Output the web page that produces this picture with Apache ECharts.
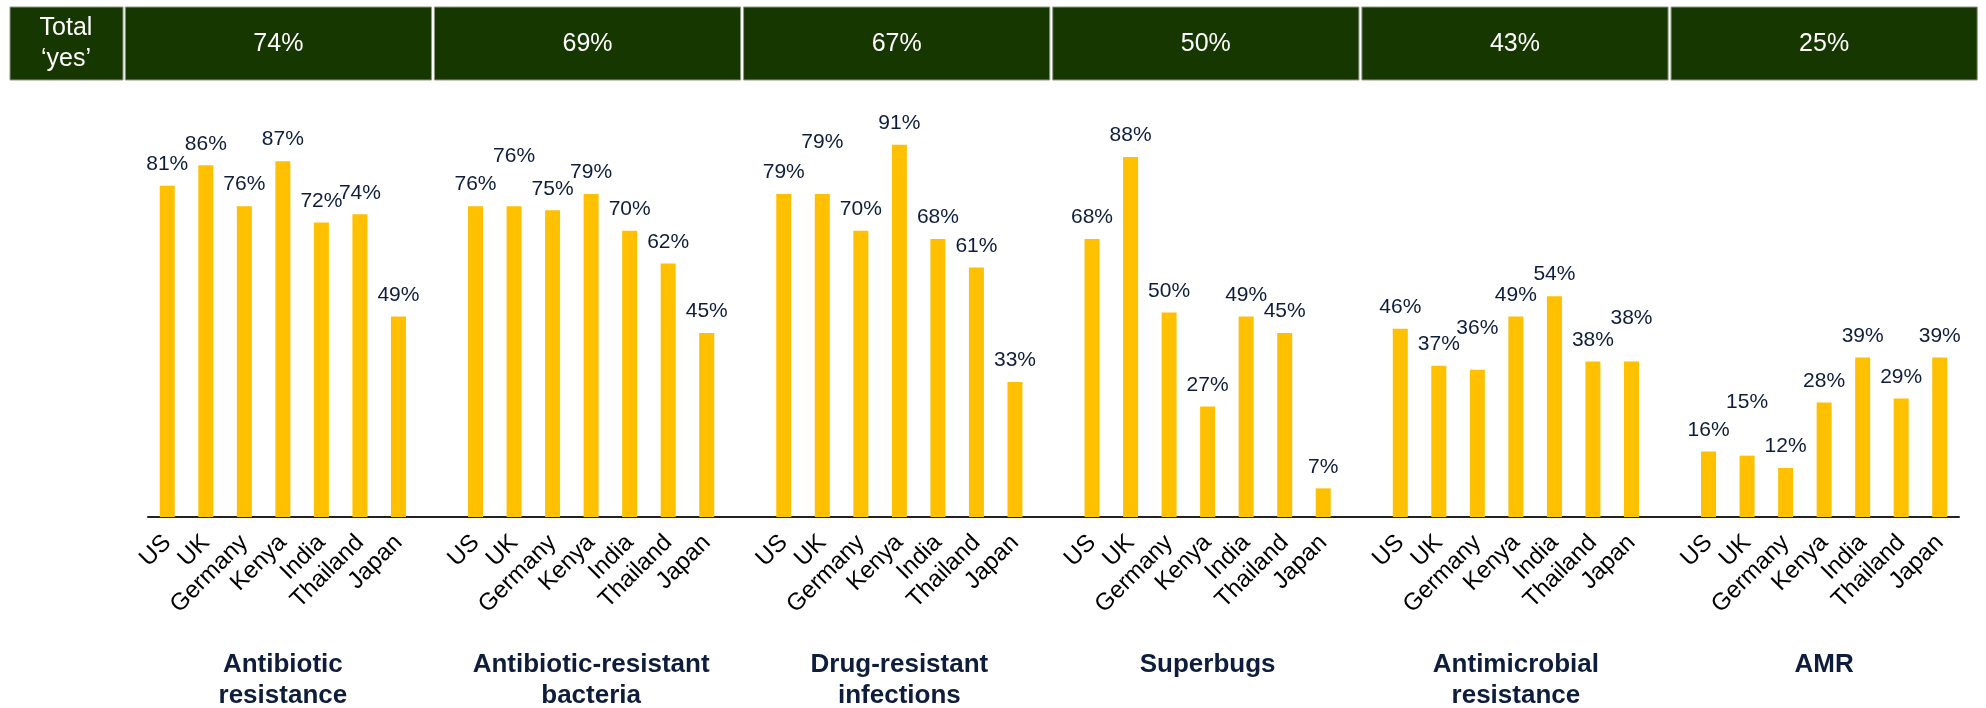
<!DOCTYPE html>
<html>
<head>
<meta charset="utf-8">
<script src="https://cdn.jsdelivr.net/npm/echarts@6/dist/echarts.min.js"></script>
<style>
  html, body { margin: 0; padding: 0; background: #ffffff; }
  #chart { width: 1986px; height: 708px; }
</style>
</head>
<body>
<div id="chart"></div>
<script>
// ---- data ----
const countries = ['US', 'UK', 'Germany', 'Kenya', 'India', 'Thailand', 'Japan'];
const topics = ['Antibiotic\nresistance', 'Antibiotic-resistant\nbacteria', 'Drug-resistant\ninfections', 'Superbugs', 'Antimicrobial\nresistance', 'AMR'];
const totalYes = [74, 69, 67, 50, 43, 25];
const antibioticResistance = [81, 86, 76, 87, 72, 74, 49];
const antibioticResistantBacteria = [76, 76, 75, 79, 70, 62, 45];
const drugResistantInfections = [79, 79, 70, 91, 68, 61, 33];
const superbugs = [68, 88, 50, 27, 49, 45, 7];
const antimicrobialResistance = [46, 37, 36, 49, 54, 38, 38];
const amr = [16, 15, 12, 28, 39, 29, 39];
const totalLabel = 'Total\n\u2018yes\u2019';

// ---- style: extra lift (px) for labels that sit higher in the original to avoid overlaps ----
const labelLift = { '1-1': 28, '2-1': 30, '4-2': 20, '4-6': 22, '5-1': 32 };

const groups = [antibioticResistance, antibioticResistantBacteria, drugResistantInfections, superbugs, antimicrobialResistance, amr];

// build one category axis: 7 countries per topic, one empty slot between topics
const categories = [];
const values = [];
groups.forEach((g, gi) => {
  countries.forEach((c, ci) => {
    categories.push(c);
    const lift = labelLift[gi + '-' + ci];
    if (lift) {
      values.push({ value: g[ci], label: { distance: 11 + lift } });
    } else {
      values.push(g[ci]);
    }
  });
  if (gi < groups.length - 1) { categories.push(' '.repeat(gi + 1)); values.push(null); }
});

const chart = echarts.init(document.getElementById('chart'), null, { renderer: 'canvas' });

const navy = '#0e1d3b';
const option = {
  animation: false,
  backgroundColor: '#ffffff',
  grid: { left: 148, right: 27, top: 108, bottom: 191, containLabel: false },
  xAxis: {
    type: 'category',
    data: categories,
    boundaryGap: true,
    axisLine: { show: true, lineStyle: { color: '#222222', width: 2 } },
    axisTick: { show: false },
    axisLabel: {
      interval: 0,
      rotate: 45,
      margin: 22,
      fontFamily: 'Liberation Sans, Arial, sans-serif',
      fontSize: 24,
      color: '#000000'
    }
  },
  yAxis: {
    type: 'value', min: 0, max: 100,
    show: false,
    splitLine: { show: false }
  },
  series: [{
    type: 'bar',
    data: values,
    barWidth: 15,
    itemStyle: { color: '#FFC000' },
    label: {
      show: true,
      position: 'top',
      distance: 11,
      formatter: p => (p.value == null ? '' : p.value + '%'),
      fontFamily: 'Liberation Sans, Arial, sans-serif',
      fontSize: 21,
      color: navy
    }
  }]
};
chart.setOption(option);

// header cells and topic titles placed via the axis scale
const gfx = [];
const headerTop = 7, headerH = 73;
const headerFill = '#173700', headerStroke = '#8d9a86';
gfx.push({
  type: 'rect', shape: { x: 10, y: headerTop, width: 113, height: headerH },
  style: { fill: headerFill, stroke: headerStroke, lineWidth: 1 }
});
gfx.push({
  type: 'text',
  style: {
    text: totalLabel, x: 66, y: 44, textAlign: 'center', textVerticalAlign: 'middle',
    fontFamily: 'Liberation Sans, Arial, sans-serif', fontSize: 25, lineHeight: 31, fill: '#ffffff'
  }
});
topics.forEach((t, gi) => {
  const center = chart.convertToPixel({ xAxisIndex: 0 }, gi * 8 + 3);
  const first = chart.convertToPixel({ xAxisIndex: 0 }, gi * 8);
  const last = chart.convertToPixel({ xAxisIndex: 0 }, gi * 8 + 6);
  const left = first - 42 + gi * 0.9;
  const right = last + 33 + gi * 0.9;
  gfx.push({
    type: 'rect', shape: { x: left, y: headerTop, width: right - left, height: headerH },
    style: { fill: headerFill, stroke: headerStroke, lineWidth: 1 }
  });
  gfx.push({
    type: 'text',
    style: {
      text: totalYes[gi] + '%', x: (left + right) / 2, y: 44, textAlign: 'center', textVerticalAlign: 'middle',
      fontFamily: 'Liberation Sans, Arial, sans-serif', fontSize: 25, fill: '#ffffff'
    }
  });
  gfx.push({
    type: 'text',
    style: {
      text: t, x: center, y: 649, textAlign: 'center', textVerticalAlign: 'top',
      fontFamily: 'Liberation Sans, Arial, sans-serif', fontWeight: 'bold', fontSize: 26, lineHeight: 31, fill: navy
    }
  });
});
chart.setOption({ graphic: gfx });
</script>
</body>
</html>
